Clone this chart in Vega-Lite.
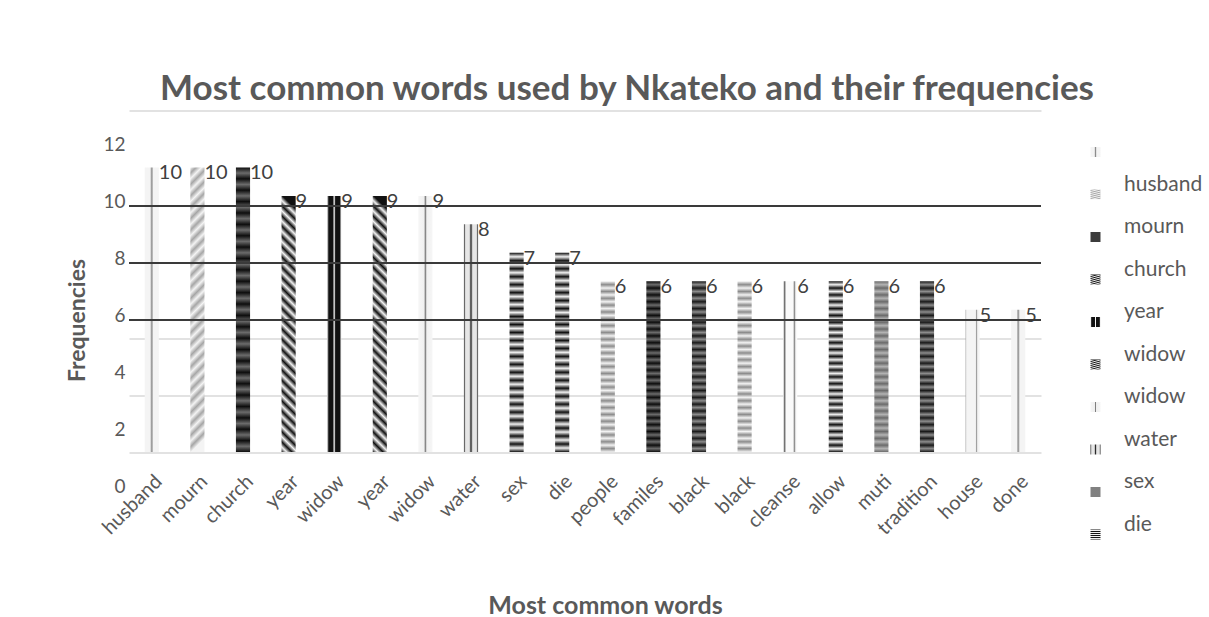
{
  "$schema": "https://vega.github.io/schema/vega-lite/v6.json",
  "width": 912,
  "height": 341.5,
  "autosize": {"type": "none"},
  "padding": {"left": 129, "top": 110.5, "right": 168, "bottom": 165},
  "background": "#ffffff",
  "title": {
    "text": "Most common words used by Nkateko and their frequencies",
    "font": "Lato",
    "fontSize": 35,
    "fontWeight": "bold",
    "color": "#595959",
    "anchor": "middle",
    "baseline": "alphabetic",
    "dx": 42,
    "dy": 32,
    "offset": 7.5
  },
  "params": [
    {"name": "gCross", "expr": "{gradient:'linear',x1:0,y1:0,x2:1,y2:0,stops:[{offset:0,color:'#f4f4f4'},{offset:0.38,color:'#f4f4f4'},{offset:0.5,color:'#8c8c8c'},{offset:0.62,color:'#f4f4f4'},{offset:1,color:'#f4f4f4'}]}"},
    {"name": "gWidow", "expr": "{gradient:'linear',x1:0,y1:0,x2:1,y2:0,stops:[{offset:0,color:'#e6e6e6'},{offset:0.12,color:'#111111'},{offset:0.4,color:'#111111'},{offset:0.5,color:'#f4f4f4'},{offset:0.6,color:'#111111'},{offset:0.88,color:'#111111'},{offset:1,color:'#e6e6e6'}]}"},
    {"name": "gThin", "expr": "{gradient:'linear',x1:0,y1:0,x2:1,y2:0,stops:[{offset:0,color:'#f6f6f6'},{offset:0.4,color:'#f0f0f0'},{offset:0.5,color:'#7f7f7f'},{offset:0.6,color:'#f0f0f0'},{offset:1,color:'#f6f6f6'}]}"},
    {"name": "gGrid", "expr": "{gradient:'linear',x1:0,y1:0,x2:1,y2:0,stops:[{offset:0,color:'#2a2a2a'},{offset:0.12,color:'#e6e6e6'},{offset:0.38,color:'#e6e6e6'},{offset:0.5,color:'#2a2a2a'},{offset:0.62,color:'#e6e6e6'},{offset:0.88,color:'#e6e6e6'},{offset:1,color:'#2a2a2a'}]}"},
    {"name": "gCleanse", "expr": "{gradient:'linear',x1:0,y1:0,x2:1,y2:0,stops:[{offset:0,color:'#fafafa'},{offset:0.1,color:'#6e6e6e'},{offset:0.22,color:'#fafafa'},{offset:0.7,color:'#fafafa'},{offset:0.8,color:'#8c8c8c'},{offset:0.9,color:'#fafafa'},{offset:1,color:'#fafafa'}]}"},
    {"name": "gHouse", "expr": "{gradient:'linear',x1:0,y1:0,x2:1,y2:0,stops:[{offset:0,color:'#a6a6a6'},{offset:0.08,color:'#f4f4f4'},{offset:0.7,color:'#f4f4f4'},{offset:0.78,color:'#9c9c9c'},{offset:0.86,color:'#f4f4f4'},{offset:1,color:'#f4f4f4'}]}"},
    {"name": "gDiagDark", "expr": "{gradient:'linear',x1:0.055,y1:0,x2:0,y2:1,stops:[{offset:0,color:'#111111'},{offset:0.02,color:'#f2f2f2'},{offset:0.04,color:'#111111'},{offset:0.06,color:'#f2f2f2'},{offset:0.08,color:'#111111'},{offset:0.1,color:'#f2f2f2'},{offset:0.12,color:'#111111'},{offset:0.14,color:'#f2f2f2'},{offset:0.16,color:'#111111'},{offset:0.18,color:'#f2f2f2'},{offset:0.2,color:'#111111'},{offset:0.22,color:'#f2f2f2'},{offset:0.24,color:'#111111'},{offset:0.26,color:'#f2f2f2'},{offset:0.28,color:'#111111'},{offset:0.3,color:'#f2f2f2'},{offset:0.32,color:'#111111'},{offset:0.34,color:'#f2f2f2'},{offset:0.36,color:'#111111'},{offset:0.38,color:'#f2f2f2'},{offset:0.4,color:'#111111'},{offset:0.42,color:'#f2f2f2'},{offset:0.44,color:'#111111'},{offset:0.46,color:'#f2f2f2'},{offset:0.48,color:'#111111'},{offset:0.5,color:'#f2f2f2'},{offset:0.52,color:'#111111'},{offset:0.54,color:'#f2f2f2'},{offset:0.56,color:'#111111'},{offset:0.58,color:'#f2f2f2'},{offset:0.6,color:'#111111'},{offset:0.62,color:'#f2f2f2'},{offset:0.64,color:'#111111'},{offset:0.66,color:'#f2f2f2'},{offset:0.68,color:'#111111'},{offset:0.7,color:'#f2f2f2'},{offset:0.72,color:'#111111'},{offset:0.74,color:'#f2f2f2'},{offset:0.76,color:'#111111'},{offset:0.78,color:'#f2f2f2'},{offset:0.8,color:'#111111'},{offset:0.82,color:'#f2f2f2'},{offset:0.84,color:'#111111'},{offset:0.86,color:'#f2f2f2'},{offset:0.88,color:'#111111'},{offset:0.9,color:'#f2f2f2'},{offset:0.92,color:'#111111'},{offset:0.94,color:'#f2f2f2'},{offset:0.96,color:'#111111'},{offset:0.98,color:'#f2f2f2'},{offset:1,color:'#111111'}]}"},
    {"name": "gDiagLight", "expr": "{gradient:'linear',x1:0,y1:0,x2:0.05,y2:1,stops:[{offset:0,color:'#f4f4f4'},{offset:0.02,color:'#a6a6a6'},{offset:0.04,color:'#f4f4f4'},{offset:0.06,color:'#a6a6a6'},{offset:0.08,color:'#f4f4f4'},{offset:0.1,color:'#a6a6a6'},{offset:0.12,color:'#f4f4f4'},{offset:0.14,color:'#a6a6a6'},{offset:0.16,color:'#f4f4f4'},{offset:0.18,color:'#a6a6a6'},{offset:0.2,color:'#f4f4f4'},{offset:0.22,color:'#a6a6a6'},{offset:0.24,color:'#f4f4f4'},{offset:0.26,color:'#a6a6a6'},{offset:0.28,color:'#f4f4f4'},{offset:0.3,color:'#a6a6a6'},{offset:0.32,color:'#f4f4f4'},{offset:0.34,color:'#a6a6a6'},{offset:0.36,color:'#f4f4f4'},{offset:0.38,color:'#a6a6a6'},{offset:0.4,color:'#f4f4f4'},{offset:0.42,color:'#a6a6a6'},{offset:0.44,color:'#f4f4f4'},{offset:0.46,color:'#a6a6a6'},{offset:0.48,color:'#f4f4f4'},{offset:0.5,color:'#a6a6a6'},{offset:0.52,color:'#f4f4f4'},{offset:0.54,color:'#a6a6a6'},{offset:0.56,color:'#f4f4f4'},{offset:0.58,color:'#a6a6a6'},{offset:0.6,color:'#f4f4f4'},{offset:0.62,color:'#a6a6a6'},{offset:0.64,color:'#f4f4f4'},{offset:0.66,color:'#a6a6a6'},{offset:0.68,color:'#f4f4f4'},{offset:0.7,color:'#a6a6a6'},{offset:0.72,color:'#f4f4f4'},{offset:0.74,color:'#a6a6a6'},{offset:0.76,color:'#f4f4f4'},{offset:0.78,color:'#a6a6a6'},{offset:0.8,color:'#f4f4f4'},{offset:0.82,color:'#a6a6a6'},{offset:0.84,color:'#f4f4f4'},{offset:0.86,color:'#a6a6a6'},{offset:0.88,color:'#f4f4f4'},{offset:0.9,color:'#a6a6a6'},{offset:0.92,color:'#f4f4f4'},{offset:0.94,color:'#a6a6a6'},{offset:0.96,color:'#f4f4f4'},{offset:0.98,color:'#a6a6a6'},{offset:1,color:'#f4f4f4'}]}"},
    {"name": "gDark1", "expr": "{gradient:'linear',x1:0,y1:0,x2:0,y2:1,stops:[{offset:0,color:'#0d0d0d'},{offset:0.02,color:'#6b6b6b'},{offset:0.04,color:'#0d0d0d'},{offset:0.06,color:'#6b6b6b'},{offset:0.08,color:'#0d0d0d'},{offset:0.1,color:'#6b6b6b'},{offset:0.12,color:'#0d0d0d'},{offset:0.14,color:'#6b6b6b'},{offset:0.16,color:'#0d0d0d'},{offset:0.18,color:'#6b6b6b'},{offset:0.2,color:'#0d0d0d'},{offset:0.22,color:'#6b6b6b'},{offset:0.24,color:'#0d0d0d'},{offset:0.26,color:'#6b6b6b'},{offset:0.28,color:'#0d0d0d'},{offset:0.3,color:'#6b6b6b'},{offset:0.32,color:'#0d0d0d'},{offset:0.34,color:'#6b6b6b'},{offset:0.36,color:'#0d0d0d'},{offset:0.38,color:'#6b6b6b'},{offset:0.4,color:'#0d0d0d'},{offset:0.42,color:'#6b6b6b'},{offset:0.44,color:'#0d0d0d'},{offset:0.46,color:'#6b6b6b'},{offset:0.48,color:'#0d0d0d'},{offset:0.5,color:'#6b6b6b'},{offset:0.52,color:'#0d0d0d'},{offset:0.54,color:'#6b6b6b'},{offset:0.56,color:'#0d0d0d'},{offset:0.58,color:'#6b6b6b'},{offset:0.6,color:'#0d0d0d'},{offset:0.62,color:'#6b6b6b'},{offset:0.64,color:'#0d0d0d'},{offset:0.66,color:'#6b6b6b'},{offset:0.68,color:'#0d0d0d'},{offset:0.7,color:'#6b6b6b'},{offset:0.72,color:'#0d0d0d'},{offset:0.74,color:'#6b6b6b'},{offset:0.76,color:'#0d0d0d'},{offset:0.78,color:'#6b6b6b'},{offset:0.8,color:'#0d0d0d'},{offset:0.82,color:'#6b6b6b'},{offset:0.84,color:'#0d0d0d'},{offset:0.86,color:'#6b6b6b'},{offset:0.88,color:'#0d0d0d'},{offset:0.9,color:'#6b6b6b'},{offset:0.92,color:'#0d0d0d'},{offset:0.94,color:'#6b6b6b'},{offset:0.96,color:'#0d0d0d'},{offset:0.98,color:'#6b6b6b'},{offset:1,color:'#0d0d0d'}]}"},
    {"name": "gDark2", "expr": "{gradient:'linear',x1:0,y1:0,x2:0,y2:1,stops:[{offset:0,color:'#1a1a1a'},{offset:0.02,color:'#8c8c8c'},{offset:0.04,color:'#1a1a1a'},{offset:0.06,color:'#8c8c8c'},{offset:0.08,color:'#1a1a1a'},{offset:0.1,color:'#8c8c8c'},{offset:0.12,color:'#1a1a1a'},{offset:0.14,color:'#8c8c8c'},{offset:0.16,color:'#1a1a1a'},{offset:0.18,color:'#8c8c8c'},{offset:0.2,color:'#1a1a1a'},{offset:0.22,color:'#8c8c8c'},{offset:0.24,color:'#1a1a1a'},{offset:0.26,color:'#8c8c8c'},{offset:0.28,color:'#1a1a1a'},{offset:0.3,color:'#8c8c8c'},{offset:0.32,color:'#1a1a1a'},{offset:0.34,color:'#8c8c8c'},{offset:0.36,color:'#1a1a1a'},{offset:0.38,color:'#8c8c8c'},{offset:0.4,color:'#1a1a1a'},{offset:0.42,color:'#8c8c8c'},{offset:0.44,color:'#1a1a1a'},{offset:0.46,color:'#8c8c8c'},{offset:0.48,color:'#1a1a1a'},{offset:0.5,color:'#8c8c8c'},{offset:0.52,color:'#1a1a1a'},{offset:0.54,color:'#8c8c8c'},{offset:0.56,color:'#1a1a1a'},{offset:0.58,color:'#8c8c8c'},{offset:0.6,color:'#1a1a1a'},{offset:0.62,color:'#8c8c8c'},{offset:0.64,color:'#1a1a1a'},{offset:0.66,color:'#8c8c8c'},{offset:0.68,color:'#1a1a1a'},{offset:0.7,color:'#8c8c8c'},{offset:0.72,color:'#1a1a1a'},{offset:0.74,color:'#8c8c8c'},{offset:0.76,color:'#1a1a1a'},{offset:0.78,color:'#8c8c8c'},{offset:0.8,color:'#1a1a1a'},{offset:0.82,color:'#8c8c8c'},{offset:0.84,color:'#1a1a1a'},{offset:0.86,color:'#8c8c8c'},{offset:0.88,color:'#1a1a1a'},{offset:0.9,color:'#8c8c8c'},{offset:0.92,color:'#1a1a1a'},{offset:0.94,color:'#8c8c8c'},{offset:0.96,color:'#1a1a1a'},{offset:0.98,color:'#8c8c8c'},{offset:1,color:'#1a1a1a'}]}"},
    {"name": "gBW", "expr": "{gradient:'linear',x1:0,y1:0,x2:0,y2:1,stops:[{offset:0,color:'#111111'},{offset:0.02,color:'#f0f0f0'},{offset:0.04,color:'#111111'},{offset:0.06,color:'#f0f0f0'},{offset:0.08,color:'#111111'},{offset:0.1,color:'#f0f0f0'},{offset:0.12,color:'#111111'},{offset:0.14,color:'#f0f0f0'},{offset:0.16,color:'#111111'},{offset:0.18,color:'#f0f0f0'},{offset:0.2,color:'#111111'},{offset:0.22,color:'#f0f0f0'},{offset:0.24,color:'#111111'},{offset:0.26,color:'#f0f0f0'},{offset:0.28,color:'#111111'},{offset:0.3,color:'#f0f0f0'},{offset:0.32,color:'#111111'},{offset:0.34,color:'#f0f0f0'},{offset:0.36,color:'#111111'},{offset:0.38,color:'#f0f0f0'},{offset:0.4,color:'#111111'},{offset:0.42,color:'#f0f0f0'},{offset:0.44,color:'#111111'},{offset:0.46,color:'#f0f0f0'},{offset:0.48,color:'#111111'},{offset:0.5,color:'#f0f0f0'},{offset:0.52,color:'#111111'},{offset:0.54,color:'#f0f0f0'},{offset:0.56,color:'#111111'},{offset:0.58,color:'#f0f0f0'},{offset:0.6,color:'#111111'},{offset:0.62,color:'#f0f0f0'},{offset:0.64,color:'#111111'},{offset:0.66,color:'#f0f0f0'},{offset:0.68,color:'#111111'},{offset:0.7,color:'#f0f0f0'},{offset:0.72,color:'#111111'},{offset:0.74,color:'#f0f0f0'},{offset:0.76,color:'#111111'},{offset:0.78,color:'#f0f0f0'},{offset:0.8,color:'#111111'},{offset:0.82,color:'#f0f0f0'},{offset:0.84,color:'#111111'},{offset:0.86,color:'#f0f0f0'},{offset:0.88,color:'#111111'},{offset:0.9,color:'#f0f0f0'},{offset:0.92,color:'#111111'},{offset:0.94,color:'#f0f0f0'},{offset:0.96,color:'#111111'},{offset:0.98,color:'#f0f0f0'},{offset:1,color:'#111111'}]}"},
    {"name": "gLightStripe", "expr": "{gradient:'linear',x1:0,y1:0,x2:0,y2:1,stops:[{offset:0,color:'#f2f2f2'},{offset:0.02,color:'#8c8c8c'},{offset:0.04,color:'#f2f2f2'},{offset:0.06,color:'#8c8c8c'},{offset:0.08,color:'#f2f2f2'},{offset:0.1,color:'#8c8c8c'},{offset:0.12,color:'#f2f2f2'},{offset:0.14,color:'#8c8c8c'},{offset:0.16,color:'#f2f2f2'},{offset:0.18,color:'#8c8c8c'},{offset:0.2,color:'#f2f2f2'},{offset:0.22,color:'#8c8c8c'},{offset:0.24,color:'#f2f2f2'},{offset:0.26,color:'#8c8c8c'},{offset:0.28,color:'#f2f2f2'},{offset:0.3,color:'#8c8c8c'},{offset:0.32,color:'#f2f2f2'},{offset:0.34,color:'#8c8c8c'},{offset:0.36,color:'#f2f2f2'},{offset:0.38,color:'#8c8c8c'},{offset:0.4,color:'#f2f2f2'},{offset:0.42,color:'#8c8c8c'},{offset:0.44,color:'#f2f2f2'},{offset:0.46,color:'#8c8c8c'},{offset:0.48,color:'#f2f2f2'},{offset:0.5,color:'#8c8c8c'},{offset:0.52,color:'#f2f2f2'},{offset:0.54,color:'#8c8c8c'},{offset:0.56,color:'#f2f2f2'},{offset:0.58,color:'#8c8c8c'},{offset:0.6,color:'#f2f2f2'},{offset:0.62,color:'#8c8c8c'},{offset:0.64,color:'#f2f2f2'},{offset:0.66,color:'#8c8c8c'},{offset:0.68,color:'#f2f2f2'},{offset:0.7,color:'#8c8c8c'},{offset:0.72,color:'#f2f2f2'},{offset:0.74,color:'#8c8c8c'},{offset:0.76,color:'#f2f2f2'},{offset:0.78,color:'#8c8c8c'},{offset:0.8,color:'#f2f2f2'},{offset:0.82,color:'#8c8c8c'},{offset:0.84,color:'#f2f2f2'},{offset:0.86,color:'#8c8c8c'},{offset:0.88,color:'#f2f2f2'},{offset:0.9,color:'#8c8c8c'},{offset:0.92,color:'#f2f2f2'},{offset:0.94,color:'#8c8c8c'},{offset:0.96,color:'#f2f2f2'},{offset:0.98,color:'#8c8c8c'},{offset:1,color:'#f2f2f2'}]}"},
    {"name": "gMid", "expr": "{gradient:'linear',x1:0,y1:0,x2:0,y2:1,stops:[{offset:0,color:'#6b6b6b'},{offset:0.02,color:'#b3b3b3'},{offset:0.04,color:'#6b6b6b'},{offset:0.06,color:'#b3b3b3'},{offset:0.08,color:'#6b6b6b'},{offset:0.1,color:'#b3b3b3'},{offset:0.12,color:'#6b6b6b'},{offset:0.14,color:'#b3b3b3'},{offset:0.16,color:'#6b6b6b'},{offset:0.18,color:'#b3b3b3'},{offset:0.2,color:'#6b6b6b'},{offset:0.22,color:'#b3b3b3'},{offset:0.24,color:'#6b6b6b'},{offset:0.26,color:'#b3b3b3'},{offset:0.28,color:'#6b6b6b'},{offset:0.3,color:'#b3b3b3'},{offset:0.32,color:'#6b6b6b'},{offset:0.34,color:'#b3b3b3'},{offset:0.36,color:'#6b6b6b'},{offset:0.38,color:'#b3b3b3'},{offset:0.4,color:'#6b6b6b'},{offset:0.42,color:'#b3b3b3'},{offset:0.44,color:'#6b6b6b'},{offset:0.46,color:'#b3b3b3'},{offset:0.48,color:'#6b6b6b'},{offset:0.5,color:'#b3b3b3'},{offset:0.52,color:'#6b6b6b'},{offset:0.54,color:'#b3b3b3'},{offset:0.56,color:'#6b6b6b'},{offset:0.58,color:'#b3b3b3'},{offset:0.6,color:'#6b6b6b'},{offset:0.62,color:'#b3b3b3'},{offset:0.64,color:'#6b6b6b'},{offset:0.66,color:'#b3b3b3'},{offset:0.68,color:'#6b6b6b'},{offset:0.7,color:'#b3b3b3'},{offset:0.72,color:'#6b6b6b'},{offset:0.74,color:'#b3b3b3'},{offset:0.76,color:'#6b6b6b'},{offset:0.78,color:'#b3b3b3'},{offset:0.8,color:'#6b6b6b'},{offset:0.82,color:'#b3b3b3'},{offset:0.84,color:'#6b6b6b'},{offset:0.86,color:'#b3b3b3'},{offset:0.88,color:'#6b6b6b'},{offset:0.9,color:'#b3b3b3'},{offset:0.92,color:'#6b6b6b'},{offset:0.94,color:'#b3b3b3'},{offset:0.96,color:'#6b6b6b'},{offset:0.98,color:'#b3b3b3'},{offset:1,color:'#6b6b6b'}]}"}
  ],
  "config": {"view": {"stroke": null}, "font": "Lato"},
  "resolve": {"scale": {"y": "independent"}, "axis": {"y": "independent"}},
  "layer": [
    {
      "data": {
        "values": [
          {"key": "husband", "freq": 10},
          {"key": "mourn", "freq": 10},
          {"key": "church", "freq": 10},
          {"key": "year", "freq": 9},
          {"key": "widow", "freq": 9},
          {"key": "year_2", "freq": 9},
          {"key": "widow_2", "freq": 9},
          {"key": "water", "freq": 8},
          {"key": "sex", "freq": 7},
          {"key": "die", "freq": 7},
          {"key": "people", "freq": 6},
          {"key": "familes", "freq": 6},
          {"key": "black", "freq": 6},
          {"key": "black_2", "freq": 6},
          {"key": "cleanse", "freq": 6},
          {"key": "allow", "freq": 6},
          {"key": "muti", "freq": 6},
          {"key": "tradition", "freq": 6},
          {"key": "house", "freq": 5},
          {"key": "done", "freq": 5}
        ]
      },
      "encoding": {
        "x": {
          "field": "key",
          "type": "nominal",
          "sort": null,
          "scale": {"paddingInner": 0.69, "paddingOuter": 0.345},
          "axis": {
            "labelExpr": "split(datum.value, '_')[0]",
            "labelAngle": -45,
            "labelFont": "Lato",
            "labelFontSize": 20,
            "labelColor": "#595959",
            "labelPadding": 19,
            "ticks": false,
            "domain": false,
            "grid": false,
            "title": "Most common words",
            "titleFont": "Lato",
            "titleFontSize": 25,
            "titleFontWeight": "bold",
            "titleColor": "#595959",
            "titleX": 476,
            "titleY": 161,
            "titleBaseline": "alphabetic"
          }
        },
        "y": {
          "field": "freq",
          "type": "quantitative",
          "scale": {"domain": [0, 12], "nice": false},
          "axis": {
            "orient": "right",
            "values": [0, 2, 4, 12],
            "labels": false,
            "ticks": false,
            "domain": false,
            "grid": true,
            "gridColor": "#d9d9d9",
            "gridWidth": 1.5,
            "title": null
          }
        }
      },
      "layer": [
        {
          "mark": {"type": "bar"},
          "encoding": {
            "color": {
              "field": "key",
              "type": "nominal",
              "sort": null,
              "scale": {
                "domain": ["husband", "mourn", "church", "year", "widow", "year_2", "widow_2", "water", "sex", "die", "people", "familes", "black", "black_2", "cleanse", "allow", "muti", "tradition", "house", "done"],
                "range": [
                  {"expr": "gCross"}, {"expr": "gDiagLight"}, {"expr": "gDark1"}, {"expr": "gDiagDark"}, {"expr": "gWidow"},
                  {"expr": "gDiagDark"}, {"expr": "gThin"}, {"expr": "gGrid"}, {"expr": "gBW"}, {"expr": "gBW"},
                  {"expr": "gLightStripe"}, {"expr": "gDark1"}, {"expr": "gDark2"}, {"expr": "gLightStripe"}, {"expr": "gCleanse"},
                  {"expr": "gBW"}, {"expr": "gMid"}, {"expr": "gDark2"}, {"expr": "gHouse"}, {"expr": "gCross"}
                ]
              },
              "legend": {
                "orient": "none",
                "legendX": 956,
                "legendY": 31,
                "title": null,
                "padding": 0,
                "values": ["husband", "mourn", "church", "year", "widow", "year_2", "widow_2", "water", "sex", "die"],
                "labelExpr": "({'husband': '', 'mourn': 'husband', 'church': 'mourn', 'year': 'church', 'widow': 'year', 'year_2': 'widow', 'widow_2': 'widow', 'water': 'water', 'sex': 'sex', 'die': 'die'})[datum.value]",
                "symbolType": "square",
                "symbolSize": 100,
                "symbolStrokeWidth": 0,
                "labelFont": "Lato",
                "labelFontSize": 21,
                "labelColor": "#595959",
                "labelOffset": 18,
                "labelBaseline": "bottom",
                "rowPadding": 15.5
              }
            }
          }
        },
        {
          "mark": {"type": "text", "align": "left", "baseline": "middle", "dx": 7, "dy": 6, "font": "Lato", "fontSize": 20, "color": "#404040"},
          "encoding": {"text": {"field": "freq", "type": "quantitative"}}
        }
      ]
    },
    {
      "data": {"values": [{"level": 6}, {"level": 8}, {"level": 10}]},
      "mark": {"type": "rule", "color": "#3a3a3a", "strokeWidth": 2},
      "encoding": {
        "y": {
          "field": "level",
          "type": "quantitative",
          "scale": {"domain": [0, 12], "range": [380.5, 38.5], "nice": false},
          "axis": {
            "orient": "left",
            "values": [0, 2, 4, 6, 8, 10, 12],
            "labelOffset": -4.5,
            "labelPadding": 4,
            "labelFont": "Lato",
            "labelFontSize": 19,
            "labelColor": "#595959",
            "ticks": false,
            "domain": false,
            "grid": false,
            "title": "Frequencies",
            "titleFont": "Lato",
            "titleFontSize": 23,
            "titleFontWeight": "bold",
            "titleColor": "#595959",
            "titleX": -52,
            "titleBaseline": "middle"
          }
        }
      }
    }
  ]
}
